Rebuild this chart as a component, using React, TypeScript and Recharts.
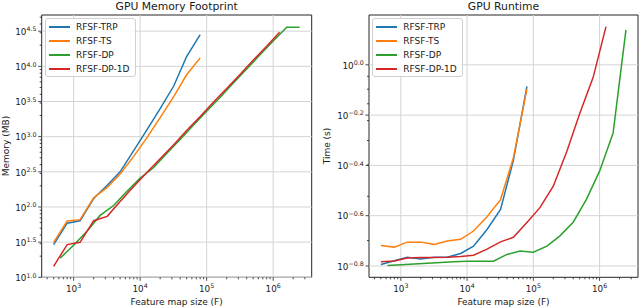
import React from 'react';
import { LineChart, Line, XAxis, YAxis, ReferenceLine, ReferenceArea } from 'recharts';

// feature map sizes (F)
const sizesTRP = [500, 800, 1250, 2000, 3200, 5000, 8000, 12500, 20000, 32000, 50000, 80000];
const sizesDP = [630, 1000, 1600, 2500, 4000, 6300, 10000, 16000, 25000, 40000, 63000, 100000, 160000, 250000, 400000, 630000, 1000000, 1600000, 2500000];
const sizesDP1D = [500, 800, 1250, 2000, 3200, 5000, 8000, 12500, 20000, 32000, 50000, 80000, 125000, 200000, 320000, 500000, 800000, 1250000];

// GPU memory (MB)
const memTRP = [29.2, 58.9, 63.8, 132, 204, 316, 631, 1230, 2510, 5250, 13800, 28200];
const memTS = [31.3, 63.1, 66.1, 135, 190, 295, 525, 955, 1860, 3720, 7590, 13200];
const memDP = [18.8, 28.5, 45.7, 75.9, 105, 166, 257, 364, 577, 914, 1450, 2300, 3640, 5770, 9140, 14500, 23000, 36100, 36100];
const memDP1D = [14.3, 29.2, 31.4, 63.8, 73.6, 120, 195, 306, 485, 769, 1220, 1930, 3060, 4850, 7690, 12200, 19300, 30600];

// GPU runtime (s)
const timeTRP = [0.1607, 0.1663, 0.1718, 0.169, 0.1718, 0.1718, 0.1778, 0.1901, 0.2213, 0.2661, 0.4169, 0.8204];
const timeTS = [0.1914, 0.1884, 0.1972, 0.1972, 0.1932, 0.1991, 0.2023, 0.2183, 0.2489, 0.2911, 0.4266, 0.7998];
const timeDP = [0.1592, 0.1603, 0.1614, 0.1626, 0.1637, 0.1648, 0.1656, 0.1656, 0.1656, 0.1762, 0.1816, 0.1799, 0.1901, 0.2084, 0.2366, 0.2911, 0.3776, 0.5358, 1.377];
const timeDP1D = [0.1648, 0.166, 0.1706, 0.1714, 0.1714, 0.1718, 0.173, 0.175, 0.1849, 0.1977, 0.2061, 0.236, 0.2698, 0.3289, 0.4519, 0.6383, 0.8913, 1.419];

// axis ticks (exponents of 10)
const xMajorExp = [3, 4, 5, 6];
const memMajorExp = ['1.0', '1.5', '2.0', '2.5', '3.0', '3.5', '4.0', '4.5'];
const timeMajorExp = ['-0.8', '-0.6', '-0.4', '-0.2', '0.0'];
const xMinor = [400, 500, 600, 700, 800, 900, 2000, 3000, 4000, 5000, 6000, 7000, 8000, 9000,
  20000, 30000, 40000, 50000, 60000, 70000, 80000, 90000,
  200000, 300000, 400000, 500000, 600000, 700000, 800000, 900000, 2000000, 3000000];
const memMinor = [20, 30, 40, 50, 60, 70, 80, 90, 200, 300, 400, 500, 600, 700, 800, 900,
  2000, 3000, 4000, 5000, 6000, 7000, 8000, 9000, 20000, 30000, 40000, 50000];
const timeMinor = [0.2, 0.3, 0.4, 0.5, 0.6, 0.7, 0.8, 0.9];

const X_DOMAIN = [331, 3800000];
const MEM_DOMAIN = [10, 53700];
const TIME_DOMAIN = [0.1429, 1.578];

const NAMES = ['RFSF-TRP', 'RFSF-TS', 'RFSF-DP', 'RFSF-DP-1D'];
const COLORS = ['#1f77b4', '#ff7f0e', '#2ca02c', '#d62728'];
const FONT = '"DejaVu Sans", sans-serif';
const INK = '#1a1a1a';

const toPoints = (xs: number[], ys: number[]) => xs.map((x, i) => ({ x, y: ys[i] }));

const memSeries = [
  toPoints(sizesTRP, memTRP),
  toPoints(sizesTRP, memTS),
  toPoints(sizesDP, memDP),
  toPoints(sizesDP1D, memDP1D),
];
const timeSeries = [
  toPoints(sizesTRP, timeTRP),
  toPoints(sizesTRP, timeTS),
  toPoints(sizesDP, timeDP),
  toPoints(sizesDP1D, timeDP1D),
];

const expValue = (e: string | number) => Math.pow(10, Number(e));
const fmtExp = (e: string | number) => String(e).replace('-', '\u2212');

function findMajor(v: number, majors: (string | number)[]) {
  return majors.find((e) => Math.abs(expValue(e) - v) / v < 1e-6);
}

function XTick(props: any) {
  const { x, y, payload } = props;
  const major = findMajor(payload.value, xMajorExp);
  return (
    <g>
      <line x1={x} x2={x} y1={y} y2={y + (major !== undefined ? 3.5 : 2)} stroke={INK} strokeWidth={0.8} />
      {major !== undefined && (
        <text x={x} y={y + 14.5} textAnchor="middle" fontSize={8.8} fontFamily={FONT} fill={INK}>
          10<tspan dy={-3.9} fontSize={6.3}>{fmtExp(major)}</tspan>
        </text>
      )}
    </g>
  );
}

function YTick(props: any) {
  const { x, y, payload, majors } = props;
  const major = findMajor(payload.value, majors);
  return (
    <g>
      <line x1={x - (major !== undefined ? 3.5 : 2)} x2={x} y1={y} y2={y} stroke={INK} strokeWidth={0.8} />
      {major !== undefined && (
        <text x={x - 5.3} y={y + 3.7} textAnchor="end" fontSize={8.8} fontFamily={FONT} fill={INK}>
          10<tspan dy={-3.5} fontSize={6.3}>{fmtExp(major)}</tspan>
        </text>
      )}
    </g>
  );
}

function LegendBox({ left }: { left: number }) {
  return (
    <div
      style={{
        position: 'absolute', left, top: 18.3, width: 91, height: 59,
        border: '1px solid #d0d0d0', borderRadius: 3, background: 'rgba(255,255,255,0.85)',
        boxSizing: 'border-box', fontFamily: FONT, fontSize: 9, color: INK,
      }}
    >
      {NAMES.map((name, i) => (
        <div key={name} style={{ position: 'absolute', left: 0, top: 7.7 + i * 13.9 - 7, height: 14, width: '100%' }}>
          <div style={{ position: 'absolute', left: 2.5, top: 6, width: 21, height: 2, background: COLORS[i] }} />
          <div style={{ position: 'absolute', left: 30, top: 1, lineHeight: '12px', whiteSpace: 'nowrap' }}>{name}</div>
        </div>
      ))}
    </div>
  );
}

interface PanelProps {
  left: number;
  title: string;
  yLabel: string;
  yAxisWidth: number;
  rightMargin: number;
  yDomain: number[];
  yMajors: string[];
  yMinors: number[];
  series: { x: number; y: number }[][];
  yLabelX: number;
}

function Panel({ left, title, yLabel, yAxisWidth, rightMargin, yDomain, yMajors, yMinors, series, yLabelX }: PanelProps) {
  const plotLeft = yAxisWidth;
  const plotRight = 320 - rightMargin;
  const cx = (plotLeft + plotRight) / 2;
  const yTicks = [...yMajors.map(expValue), ...yMinors].sort((a, b) => a - b);
  const xTicks = [...xMajorExp.map(expValue), ...xMinor].sort((a, b) => a - b);
  return (
    <div style={{ position: 'absolute', left, top: 0, width: 320, height: 307 }}>
      <LineChart width={320} height={307} margin={{ top: 15, right: rightMargin, bottom: 0, left: 0 }}>
        <XAxis
          dataKey="x" type="number" scale="log" domain={X_DOMAIN} allowDataOverflow
          ticks={xTicks} interval={0} tickSize={0} tickMargin={0} tickLine={false} axisLine={false}
          height={29.7} tick={<XTick />}
        />
        <YAxis
          dataKey="y" type="number" scale="log" domain={yDomain} allowDataOverflow
          ticks={yTicks} interval={0} tickSize={0} tickMargin={0} tickLine={false} axisLine={false}
          width={yAxisWidth} tick={<YTick majors={yMajors} />}
        />
        {xMajorExp.map((e) => (
          <ReferenceLine key={'gx' + e} x={expValue(e)} stroke="#d4d4d4" strokeWidth={1} />
        ))}
        {yMajors.map((e) => (
          <ReferenceLine key={'gy' + e} y={expValue(e)} stroke="#d4d4d4" strokeWidth={1} />
        ))}
        {series.map((d, i) => (
          <Line
            key={NAMES[i]} data={d} dataKey="y" type="linear" stroke={COLORS[i]} strokeWidth={1.5}
            dot={false} isAnimationActive={false} name={NAMES[i]}
          />
        ))}
        <ReferenceArea
          x1={X_DOMAIN[0]} x2={X_DOMAIN[1]} y1={yDomain[0]} y2={yDomain[1]}
          fill="none" stroke="#262626" strokeWidth={1} ifOverflow="visible"
        />
      </LineChart>
      <div style={{ position: 'absolute', left: cx - 100, width: 200, top: -0.5, textAlign: 'center', fontFamily: FONT, fontSize: 10.8, lineHeight: '14px', color: INK }}>
        {title}
      </div>
      <div style={{ position: 'absolute', left: cx - 100, width: 200, top: 295.5, textAlign: 'center', fontFamily: FONT, fontSize: 9, lineHeight: '12px', color: INK }}>
        Feature map size (F)
      </div>
      <div
        style={{
          position: 'absolute', left: yLabelX - 50, top: 146 - 6, width: 100, height: 12, lineHeight: '12px',
          textAlign: 'center', fontFamily: FONT, fontSize: 9, color: INK, transform: 'rotate(-90deg)',
        }}
      >
        {yLabel}
      </div>
      <LegendBox left={plotLeft + 3.3} />
    </div>
  );
}

export default function App() {
  return (
    <div style={{ position: 'absolute', left: 0, top: 0, width: 640, height: 307, background: '#fff' }}>
      <Panel
        left={0} title="GPU Memory Footprint" yLabel="Memory (MB)" yAxisWidth={41.7} rightMargin={8.3}
        yDomain={MEM_DOMAIN} yMajors={memMajorExp} yMinors={memMinor} series={memSeries} yLabelX={6}
      />
      <Panel
        left={320} title="GPU Runtime" yLabel="Time (s)" yAxisWidth={49} rightMargin={2}
        yDomain={TIME_DOMAIN} yMajors={timeMajorExp} yMinors={timeMinor} series={timeSeries} yLabelX={7}
      />
    </div>
  );
}
